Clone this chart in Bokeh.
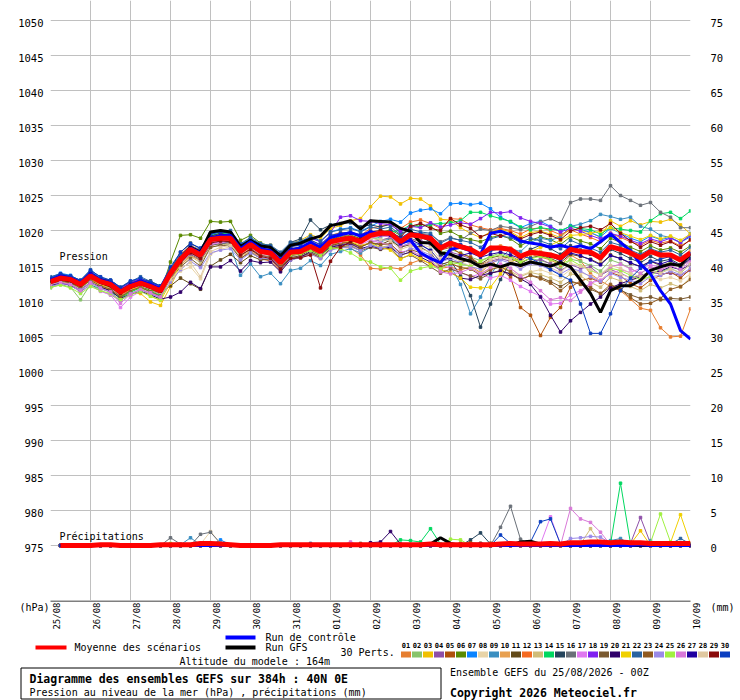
from math import pi
from bokeh.plotting import figure
from bokeh.models import Range1d, LinearAxis, FixedTicker, Label, Grid
from bokeh.layouts import column
from bokeh.embed import file_html
from bokeh.resources import INLINE
from bokeh.core.properties import value

FONT = "DejaVu Sans Mono"

# ---------------- data ----------------
HOURS = [6 * k for k in range(65)]          # 0 .. 384 h, 6-hourly
RR_HOURS = HOURS[1:]                        # precipitation starts at +6h
DAY_HOURS = [24 * k for k in range(17)]
DATES = ["25/08", "26/08", "27/08", "28/08", "29/08", "30/08", "31/08", "01/09",
         "02/09", "03/09", "04/09", "05/09", "06/09", "07/09", "08/09", "09/09", "10/09"]
P_TICKS = [975, 980, 985, 990, 995, 1000, 1005, 1010, 1015, 1020, 1025, 1030,
           1035, 1040, 1045, 1050]
MM_TICKS = [0, 5, 10, 15, 20, 25, 30, 35, 40, 45, 50, 55, 60, 65, 70, 75]

PERT_NAMES = ["01", "02", "03", "04", "05", "06", "07", "08", "09", "10",
              "11", "12", "13", "14", "15", "16", "17", "18", "19", "20",
              "21", "22", "23", "24", "25", "26", "27", "28", "29", "30"]
PERT_COLORS = ["#e67e30", "#88c46a", "#f0c000", "#8e4fa8", "#b0500a", "#5a8a00",
               "#0a84ff", "#e8d4a8", "#3a8ec0", "#e8a050", "#634a18", "#f56a20",
               "#d0bc78", "#00d860", "#25445c", "#6a7078", "#e078f0", "#8020f0",
               "#7a5a30", "#30006a", "#f0d000", "#2a64a0", "#905a20", "#9a8ae8",
               "#a0f040", "#d878d8", "#2000a0", "#e0c8a0", "#8a0a0a", "#0a3ec0"]

mean_slp = [1012.7, 1013.2, 1013.0, 1012.3, 1013.5, 1012.7, 1012.3, 1011.2, 1012.0, 1012.5, 1012.0, 1011.4,
            1013.9, 1015.9, 1017.3, 1016.5, 1018.7, 1018.9, 1018.9,
            1017.0, 1018.0, 1017.0, 1016.8, 1015.4, 1016.9, 1017.0, 1017.7, 1017.0, 1018.4, 1018.7, 1018.9, 1018.4,
            1019.3, 1019.6, 1019.6, 1018.4, 1019.4, 1019.2, 1018.9, 1017.5, 1018.2, 1017.7, 1017.3, 1016.5, 1017.5,
            1017.5, 1017.3, 1016.3, 1016.9, 1016.7, 1016.5, 1016.1, 1017.3, 1017.0, 1016.9, 1016.1, 1017.7, 1017.3,
            1016.8, 1016.1, 1017.0, 1016.5, 1016.5, 1015.8, 1016.8]
control_slp = [1012.9, 1013.5, 1013.2, 1012.5, 1013.8, 1012.9, 1012.5, 1011.4, 1012.2, 1012.8, 1012.3, 1011.7,
               1014.1, 1016.0, 1017.5, 1016.8, 1018.9, 1019.2, 1019.3,
               1017.4, 1018.4, 1017.4, 1017.1, 1015.7, 1017.2, 1017.5, 1018.3, 1017.6, 1019.0, 1019.4, 1019.7, 1019.2,
               1019.8, 1019.5, 1019.6, 1018.2, 1018.6, 1016.8, 1016.0, 1015.4, 1017.3, 1017.6, 1017.1, 1016.6, 1019.6,
               1019.9, 1019.4, 1018.5, 1018.2, 1018.0, 1017.6, 1017.9, 1017.5, 1017.8, 1017.4, 1018.4, 1019.5, 1018.3,
               1017.1, 1015.2, 1013.8, 1011.4, 1009.5, 1005.7, 1004.5]
gfs_slp = [1012.6, 1013.1, 1012.8, 1012.2, 1013.4, 1012.6, 1012.1, 1011.1, 1011.9, 1012.4, 1011.9, 1011.3,
           1013.8, 1016.0, 1017.6, 1016.9, 1019.8, 1020.0, 1019.8,
           1017.7, 1018.6, 1017.8, 1017.6, 1016.4, 1017.9, 1018.2, 1018.8, 1019.2, 1020.7, 1021.0, 1021.4, 1020.2,
           1021.4, 1021.3, 1021.2, 1020.3, 1019.9, 1018.3, 1018.2, 1016.8, 1016.6, 1016.0, 1015.6, 1014.8, 1015.2,
           1014.8, 1015.3, 1015.0, 1015.5, 1015.2, 1014.9, 1015.4, 1014.8, 1012.9, 1011.0, 1008.3, 1011.4, 1012.1,
           1012.1, 1012.9, 1014.3, 1014.8, 1015.2, 1015.0, 1016.7]

slp_01 = [1012.2, 1012.8, 1012.5, 1011.8, 1013.0, 1012.3, 1011.6, 1010.6, 1011.5, 1012.0, 1011.4, 1010.9,
          1013.2, 1015.0, 1016.4, 1015.7, 1017.8, 1018.2, 1018.0,
          1016.0, 1017.1, 1016.0, 1015.6, 1014.3, 1015.9, 1016.1, 1016.8, 1016.0, 1017.3, 1017.6, 1017.5, 1016.5,
          1014.6, 1014.5, 1014.7, 1014.5, 1015.3, 1015.8, 1015.3, 1014.6, 1014.8, 1014.3, 1014.9, 1014.0, 1015.2,
          1016.0, 1016.4, 1015.6, 1016.6, 1016.2, 1015.8, 1015.0, 1016.5, 1015.7, 1013.8, 1012.8, 1012.0, 1011.4,
          1010.2, 1008.9, 1008.6, 1006.1, 1004.8, 1004.9, 1008.8]
slp_02 = [1011.8, 1012.3, 1011.9, 1010.1, 1012.3, 1011.4, 1010.8, 1010.0, 1011.0, 1011.6, 1011.0, 1010.6,
          1013.5, 1016.0, 1017.6, 1016.3, 1018.9, 1019.5, 1019.3,
          1017.4, 1018.2, 1017.0, 1016.9, 1015.8, 1017.3, 1017.5, 1018.0, 1017.3, 1018.6, 1019.0, 1019.1, 1018.7,
          1019.0, 1018.6, 1018.9, 1017.9, 1018.8, 1018.4, 1018.2, 1016.8, 1017.3, 1016.8, 1016.2, 1015.7, 1016.3,
          1016.8, 1016.2, 1015.4, 1016.0, 1015.7, 1015.3, 1014.5, 1015.9, 1015.6, 1015.0, 1014.2, 1015.8, 1015.3,
          1014.6, 1013.8, 1014.9, 1014.1, 1014.6, 1013.9, 1015.2]
slp_03 = [1012.3, 1012.9, 1012.6, 1011.9, 1012.8, 1012.0, 1011.5, 1010.4, 1011.0, 1011.0, 1009.8, 1009.3,
          1012.0, 1015.0, 1016.6, 1015.9, 1018.9, 1019.2, 1019.4,
          1017.6, 1018.8, 1017.9, 1017.9, 1016.6, 1018.1, 1018.6, 1019.4, 1018.9, 1020.3, 1020.7, 1021.4, 1021.7,
          1023.4, 1024.9, 1024.8, 1023.8, 1024.6, 1024.5, 1023.5, 1021.6, 1021.5, 1020.4, 1019.6, 1019.0, 1019.8,
          1020.2, 1019.8, 1019.0, 1019.7, 1019.9, 1019.5, 1019.0, 1020.3, 1020.0, 1019.7, 1019.0, 1021.4, 1020.6,
          1021.4, 1020.8, 1021.3, 1021.2, 1021.6, 1020.8, 1019.5]
slp_04 = [1012.5, 1013.0, 1012.9, 1012.0, 1013.3, 1012.4, 1011.8, 1010.7, 1011.6, 1012.2, 1011.6, 1011.0,
          1013.6, 1015.6, 1016.9, 1016.0, 1018.1, 1018.4, 1018.2,
          1016.3, 1017.4, 1016.5, 1016.1, 1014.8, 1016.2, 1016.2, 1016.9, 1016.3, 1017.7, 1018.0, 1018.2, 1017.6,
          1018.4, 1018.6, 1019.0, 1017.9, 1018.7, 1018.6, 1018.0, 1016.4, 1016.9, 1016.5, 1016.0, 1015.0, 1015.6,
          1016.0, 1015.6, 1014.8, 1015.4, 1015.9, 1015.2, 1014.3, 1015.1, 1014.6, 1014.8, 1013.6, 1014.4, 1013.9,
          1013.2, 1013.6, 1014.0, 1013.8, 1013.9, 1013.6, 1014.3]
slp_05 = [1013.0, 1013.4, 1013.2, 1012.6, 1013.6, 1012.9, 1012.6, 1011.5, 1012.3, 1012.7, 1012.3, 1011.8,
          1014.4, 1016.4, 1017.6, 1016.9, 1018.8, 1019.0, 1019.1,
          1017.3, 1018.2, 1017.4, 1017.3, 1016.0, 1017.4, 1017.2, 1018.0, 1017.5, 1018.7, 1019.2, 1019.4, 1018.8,
          1019.6, 1019.8, 1019.4, 1018.7, 1019.4, 1019.0, 1018.5, 1017.2, 1017.6, 1016.7, 1016.2, 1015.1, 1015.7,
          1014.6, 1013.3, 1009.0, 1007.9, 1005.0, 1007.6, 1009.0, 1011.9, 1012.8, 1013.2, 1012.6, 1014.0, 1013.5,
          1012.4, 1011.8, 1012.9, 1013.6, 1014.1, 1013.2, 1014.5]
slp_06 = [1012.4, 1012.7, 1012.3, 1011.5, 1012.5, 1011.9, 1011.4, 1010.5, 1011.3, 1011.9, 1011.5, 1011.2,
          1015.5, 1019.3, 1019.4, 1018.9, 1021.3, 1021.2, 1021.3,
          1018.6, 1019.3, 1018.2, 1017.8, 1016.3, 1017.5, 1017.6, 1018.2, 1017.6, 1018.8, 1019.0, 1019.3, 1018.9,
          1019.4, 1019.7, 1020.1, 1019.3, 1020.4, 1020.9, 1020.6, 1019.6, 1019.9, 1019.1, 1018.7, 1018.4, 1019.0,
          1019.3, 1018.8, 1017.8, 1018.6, 1019.1, 1018.7, 1018.0, 1019.1, 1018.5, 1018.1, 1017.4, 1018.9, 1018.3,
          1017.6, 1017.0, 1017.8, 1017.2, 1017.5, 1016.9, 1017.8]
slp_07 = [1013.3, 1013.9, 1013.6, 1012.8, 1014.2, 1013.2, 1012.9, 1011.8, 1012.7, 1013.1, 1012.5, 1012.0,
          1014.0, 1016.3, 1017.8, 1017.3, 1019.4, 1019.8, 1019.6,
          1018.0, 1018.9, 1018.0, 1017.8, 1016.7, 1018.1, 1018.4, 1019.0, 1018.4, 1019.8, 1020.2, 1020.4, 1019.9,
          1020.6, 1021.3, 1021.6, 1021.2, 1022.5, 1022.9, 1023.1, 1022.4, 1023.8, 1023.9, 1023.7, 1023.9, 1023.1,
          1021.9, 1021.2, 1020.4, 1021.0, 1021.3, 1020.6, 1019.8, 1020.7, 1020.2, 1019.7, 1019.1, 1020.3, 1019.6,
          1018.9, 1018.4, 1019.2, 1018.7, 1019.0, 1018.3, 1019.1]
slp_08 = [1012.9, 1013.3, 1013.3, 1012.6, 1013.7, 1013.0, 1012.6, 1011.7, 1012.4, 1012.8, 1012.3, 1011.7,
          1013.4, 1014.2, 1014.8, 1013.1, 1016.6, 1017.3, 1017.7,
          1016.2, 1017.5, 1017.3, 1017.2, 1016.2, 1017.4, 1017.8, 1018.5, 1017.8, 1018.9, 1019.3, 1019.5, 1019.0,
          1019.6, 1019.8, 1019.3, 1018.1, 1018.8, 1018.0, 1017.6, 1015.9, 1016.3, 1015.6, 1014.9, 1014.4, 1014.9,
          1015.0, 1014.6, 1013.6, 1014.1, 1014.4, 1013.9, 1013.3, 1014.4, 1014.0, 1013.5, 1012.9, 1014.2, 1013.8,
          1013.2, 1012.7, 1013.5, 1013.0, 1013.3, 1012.8, 1013.8]
slp_09 = [1012.6, 1013.3, 1013.1, 1012.4, 1013.9, 1012.9, 1012.5, 1011.4, 1012.3, 1012.7, 1012.2, 1011.5,
          1013.7, 1015.8, 1017.5, 1016.2, 1018.6, 1018.3, 1017.8,
          1013.6, 1015.2, 1013.4, 1013.9, 1012.4, 1014.3, 1014.6, 1015.7, 1015.0, 1016.6, 1017.0, 1017.4, 1016.8,
          1017.6, 1018.4, 1018.8, 1017.6, 1018.3, 1017.9, 1017.2, 1015.4, 1015.0, 1012.3, 1008.1, 1010.5, 1013.5,
          1016.0, 1017.4, 1017.0, 1018.3, 1018.9, 1018.6, 1019.1, 1020.6, 1020.9, 1021.4, 1022.3, 1022.0, 1021.6,
          1021.9, 1020.6, 1020.2, 1019.3, 1019.0, 1018.2, 1019.6]
slp_10 = [1012.0, 1012.6, 1012.8, 1012.1, 1013.0, 1012.5, 1012.2, 1010.9, 1011.9, 1012.4, 1012.1, 1011.5,
          1014.2, 1016.3, 1017.5, 1016.9, 1018.5, 1018.7, 1018.5,
          1017.3, 1018.0, 1017.2, 1017.0, 1015.8, 1017.1, 1017.4, 1018.0, 1017.2, 1018.3, 1018.6, 1018.5, 1018.2,
          1019.1, 1019.3, 1019.5, 1018.5, 1019.4, 1019.0, 1018.8, 1017.6, 1018.4, 1017.9, 1017.6, 1016.6, 1017.6,
          1017.8, 1017.5, 1016.4, 1017.2, 1017.0, 1016.6, 1016.0, 1017.5, 1017.0, 1016.6, 1015.8, 1017.4, 1017.2,
          1016.5, 1015.6, 1016.8, 1016.1, 1016.4, 1015.7, 1017.1]
slp_11 = [1012.5, 1012.9, 1012.6, 1011.9, 1013.0, 1012.4, 1011.9, 1010.9, 1011.8, 1012.4, 1011.8, 1011.0,
          1012.1, 1013.2, 1012.4, 1011.6, 1014.9, 1015.8, 1016.6,
          1015.4, 1016.4, 1015.8, 1015.9, 1014.7, 1016.1, 1016.4, 1017.2, 1016.5, 1017.8, 1018.2, 1018.3, 1017.7,
          1018.2, 1018.0, 1018.6, 1017.6, 1018.0, 1017.6, 1016.8, 1015.1, 1015.6, 1015.4, 1015.9, 1015.2, 1016.1,
          1016.4, 1016.0, 1015.3, 1016.1, 1016.4, 1016.0, 1015.4, 1016.6, 1016.3, 1015.9, 1015.2, 1016.5, 1016.0,
          1015.3, 1014.9, 1015.6, 1015.0, 1015.4, 1014.8, 1015.8]
slp_12 = [1012.9, 1013.4, 1013.2, 1012.5, 1013.8, 1013.0, 1012.7, 1011.6, 1012.5, 1013.0, 1012.5, 1011.8,
          1014.3, 1016.6, 1017.9, 1017.1, 1019.2, 1019.5, 1019.3,
          1017.8, 1018.7, 1017.6, 1017.5, 1016.2, 1017.8, 1018.0, 1018.7, 1017.9, 1019.3, 1019.7, 1019.6, 1019.3,
          1020.3, 1020.6, 1020.9, 1020.3, 1021.2, 1021.5, 1021.0, 1020.3, 1021.7, 1021.6, 1020.8, 1020.4, 1020.1,
          1020.3, 1020.0, 1019.5, 1020.2, 1020.4, 1020.0, 1019.4, 1020.1, 1019.5, 1019.0, 1018.4, 1019.6, 1019.0,
          1018.4, 1017.9, 1018.6, 1018.2, 1018.5, 1017.8, 1018.6]
slp_13 = [1012.1, 1012.7, 1012.4, 1011.6, 1012.9, 1012.1, 1011.7, 1010.3, 1011.3, 1011.9, 1011.3, 1010.8,
          1013.1, 1015.0, 1016.3, 1015.4, 1017.6, 1017.9, 1018.1,
          1016.3, 1017.1, 1016.2, 1016.0, 1014.5, 1016.0, 1016.2, 1016.9, 1016.1, 1017.4, 1017.8, 1017.9, 1017.3,
          1017.8, 1017.6, 1017.9, 1016.4, 1017.0, 1016.5, 1015.8, 1014.6, 1015.3, 1014.8, 1014.6, 1013.9, 1014.5,
          1014.9, 1014.2, 1013.4, 1014.0, 1013.7, 1013.2, 1012.6, 1013.8, 1013.5, 1012.6, 1011.9, 1013.3, 1012.8,
          1012.0, 1011.4, 1012.3, 1011.8, 1012.4, 1011.9, 1013.3]
slp_14 = [1012.2, 1012.6, 1012.1, 1011.3, 1012.2, 1011.7, 1011.2, 1010.4, 1011.2, 1011.8, 1011.3, 1010.7,
          1013.8, 1016.0, 1017.6, 1016.8, 1019.3, 1019.6, 1019.5,
          1017.2, 1018.3, 1017.6, 1017.2, 1015.6, 1016.9, 1017.2, 1017.8, 1017.2, 1018.5, 1018.9, 1019.0, 1018.5,
          1018.8, 1019.0, 1019.8, 1020.0, 1020.8, 1020.5, 1020.9, 1021.0, 1021.1, 1021.4, 1022.6, 1022.6, 1022.1,
          1021.7, 1021.3, 1020.5, 1020.1, 1020.4, 1020.2, 1020.0, 1020.6, 1020.3, 1020.1, 1019.5, 1020.4, 1020.2,
          1020.0, 1019.8, 1021.4, 1022.4, 1022.6, 1021.7, 1022.8]
slp_15 = [1013.1, 1013.6, 1013.4, 1012.7, 1014.0, 1013.1, 1012.9, 1011.8, 1012.6, 1013.0, 1012.8, 1012.0,
          1014.5, 1016.9, 1018.2, 1017.4, 1019.2, 1019.6, 1019.2,
          1017.6, 1018.5, 1017.8, 1017.6, 1016.4, 1018.3, 1018.8, 1021.5, 1020.1, 1020.8, 1021.0, 1021.1, 1020.5,
          1020.8, 1020.5, 1020.9, 1019.7, 1019.9, 1019.2, 1018.3, 1016.6, 1015.7, 1013.5, 1010.7, 1006.2, 1009.5,
          1013.0, 1015.5, 1016.1, 1017.3, 1017.9, 1017.4, 1016.6, 1017.8, 1017.2, 1016.6, 1016.0, 1017.3, 1016.7,
          1016.0, 1015.4, 1016.3, 1015.6, 1015.9, 1015.1, 1016.3]
slp_16 = [1012.8, 1013.2, 1013.0, 1012.4, 1013.4, 1012.8, 1012.3, 1011.3, 1012.0, 1012.6, 1012.2, 1011.6,
          1013.7, 1015.4, 1016.6, 1015.8, 1017.9, 1018.1, 1018.3,
          1016.8, 1017.8, 1016.9, 1016.6, 1015.3, 1016.8, 1017.0, 1017.8, 1017.1, 1018.5, 1018.8, 1019.1, 1018.5,
          1019.5, 1019.6, 1019.9, 1018.9, 1019.7, 1019.6, 1019.4, 1018.4, 1019.0, 1018.6, 1019.6, 1020.2, 1020.0,
          1020.6, 1020.4, 1020.1, 1020.6, 1021.2, 1021.7, 1021.0, 1024.0, 1024.5, 1024.5, 1024.3, 1026.4, 1025.0,
          1024.3, 1023.6, 1024.0, 1022.6, 1021.9, 1020.4, 1020.4]
slp_17 = [1012.0, 1012.4, 1012.2, 1011.2, 1012.2, 1011.3, 1010.8, 1009.0, 1010.5, 1011.3, 1010.9, 1010.5,
          1013.0, 1015.2, 1016.7, 1016.0, 1018.0, 1018.3, 1018.5,
          1016.7, 1017.6, 1016.8, 1016.4, 1015.2, 1016.7, 1016.9, 1017.5, 1016.8, 1018.1, 1018.5, 1018.8, 1018.0,
          1018.6, 1018.2, 1018.0, 1016.9, 1017.2, 1016.4, 1016.0, 1015.0, 1014.7, 1014.0, 1013.4, 1013.8, 1013.2,
          1013.6, 1012.9, 1012.0, 1011.3, 1010.6, 1009.5, 1009.6, 1010.8, 1011.4, 1012.5, 1012.9, 1013.8, 1014.4,
          1014.0, 1014.6, 1015.1, 1014.7, 1015.3, 1014.9, 1015.7]
slp_18 = [1012.9, 1013.5, 1013.3, 1012.7, 1013.9, 1013.1, 1012.7, 1011.7, 1012.6, 1013.1, 1012.6, 1012.0,
          1014.2, 1016.2, 1017.7, 1016.9, 1019.0, 1019.3, 1019.1,
          1017.6, 1018.5, 1017.6, 1017.5, 1016.1, 1017.7, 1018.0, 1018.9, 1018.4, 1019.7, 1021.9, 1022.1, 1021.4,
          1021.3, 1021.0, 1020.8, 1019.9, 1020.6, 1020.4, 1021.1, 1020.5, 1020.8, 1021.1, 1020.9, 1021.7, 1022.6,
          1022.5, 1022.7, 1021.8, 1021.3, 1021.0, 1020.5, 1019.8, 1020.3, 1019.9, 1019.3, 1018.8, 1019.6, 1019.2,
          1018.6, 1018.1, 1018.8, 1018.4, 1018.9, 1018.3, 1019.3]
slp_19 = [1012.6, 1013.0, 1012.8, 1012.0, 1013.2, 1012.6, 1012.1, 1010.9, 1011.9, 1012.3, 1011.7, 1011.3,
          1013.1, 1014.8, 1016.0, 1014.9, 1017.6, 1017.9, 1017.8,
          1016.0, 1016.9, 1016.0, 1015.8, 1014.6, 1016.0, 1016.2, 1016.8, 1016.1, 1017.4, 1017.7, 1017.8, 1017.1,
          1017.6, 1017.3, 1017.5, 1016.0, 1016.5, 1015.7, 1014.8, 1013.9, 1014.5, 1014.0, 1013.5, 1013.1, 1013.9,
          1014.3, 1013.8, 1013.0, 1013.6, 1013.3, 1012.7, 1012.0, 1012.8, 1012.3, 1011.6, 1011.0, 1011.9, 1011.5,
          1010.8, 1010.3, 1010.5, 1010.1, 1010.3, 1010.2, 1010.5]
slp_20 = [1012.1, 1012.5, 1012.2, 1011.5, 1012.6, 1011.9, 1011.4, 1010.3, 1010.9, 1011.3, 1010.8, 1010.2,
          1010.5, 1011.2, 1012.6, 1011.7, 1014.8, 1014.8, 1015.7,
          1014.2, 1015.7, 1015.4, 1015.5, 1014.1, 1015.8, 1016.2, 1017.0, 1016.4, 1017.6, 1017.9, 1018.1, 1017.4,
          1017.8, 1017.4, 1017.6, 1016.5, 1016.9, 1016.2, 1015.5, 1014.4, 1014.0, 1013.2, 1013.0, 1013.6, 1013.9,
          1014.2, 1013.8, 1013.1, 1012.3, 1010.5, 1007.9, 1005.5, 1007.1, 1008.3, 1009.5, 1010.5, 1011.8, 1012.4,
          1012.9, 1013.4, 1014.0, 1014.2, 1014.8, 1014.4, 1015.1]
slp_21 = [1012.4, 1013.0, 1012.7, 1012.0, 1013.1, 1012.3, 1011.9, 1010.8, 1011.6, 1011.9, 1010.6, 1010.0,
          1012.5, 1015.3, 1017.2, 1016.4, 1018.4, 1018.7, 1018.6,
          1016.7, 1017.8, 1016.8, 1016.6, 1015.3, 1016.7, 1016.8, 1017.4, 1016.7, 1018.0, 1018.3, 1018.4, 1017.9,
          1018.2, 1017.6, 1017.2, 1015.9, 1016.6, 1016.0, 1015.2, 1014.4, 1014.0, 1013.2, 1011.9, 1011.8, 1011.9,
          1013.8, 1015.5, 1016.1, 1017.0, 1017.6, 1017.9, 1018.6, 1019.3, 1019.4, 1019.6, 1019.9, 1020.4, 1019.7,
          1019.2, 1018.7, 1019.3, 1018.8, 1019.2, 1018.6, 1019.5]
slp_22 = [1013.4, 1013.8, 1013.4, 1012.9, 1014.4, 1013.3, 1012.8, 1011.9, 1012.7, 1013.4, 1012.7, 1012.1,
          1014.6, 1016.5, 1017.7, 1017.0, 1019.6, 1019.9, 1020.0,
          1018.1, 1019.0, 1018.1, 1017.9, 1016.9, 1018.3, 1018.4, 1019.2, 1018.5, 1019.8, 1020.1, 1020.3, 1019.8,
          1020.5, 1020.2, 1020.5, 1019.4, 1020.2, 1019.8, 1019.6, 1018.2, 1018.9, 1018.6, 1018.3, 1017.6, 1018.8,
          1019.2, 1019.0, 1018.3, 1018.9, 1018.5, 1018.0, 1017.4, 1018.6, 1018.0, 1017.5, 1016.9, 1018.3, 1017.9,
          1017.2, 1016.6, 1017.4, 1016.9, 1017.2, 1016.5, 1017.6]
slp_23 = [1012.3, 1012.8, 1012.5, 1011.8, 1012.9, 1012.1, 1011.6, 1010.5, 1011.4, 1011.9, 1011.2, 1010.6,
          1013.2, 1015.3, 1016.9, 1016.1, 1018.4, 1018.6, 1018.4,
          1016.4, 1017.4, 1016.4, 1016.3, 1014.9, 1016.4, 1016.6, 1017.2, 1016.5, 1017.9, 1018.2, 1018.3, 1017.6,
          1018.3, 1018.0, 1018.1, 1016.7, 1017.3, 1016.8, 1016.2, 1014.8, 1015.3, 1014.7, 1014.5, 1013.6, 1014.4,
          1014.8, 1014.1, 1012.9, 1013.6, 1013.1, 1012.5, 1011.4, 1012.6, 1012.4, 1011.9, 1011.0, 1012.3, 1011.6,
          1010.4, 1009.5, 1009.6, 1010.3, 1011.6, 1012.0, 1013.0]
slp_24 = [1012.0, 1012.4, 1012.3, 1011.5, 1012.6, 1011.8, 1011.2, 1010.0, 1011.0, 1011.5, 1011.0, 1010.4,
          1012.6, 1014.4, 1015.6, 1014.7, 1016.8, 1017.2, 1017.4,
          1015.8, 1016.8, 1016.1, 1015.9, 1014.6, 1015.8, 1016.1, 1016.6, 1016.0, 1017.2, 1017.5, 1017.7, 1017.1,
          1017.9, 1017.5, 1017.8, 1016.5, 1017.5, 1017.1, 1016.5, 1015.5, 1016.0, 1015.4, 1014.8, 1014.5, 1015.4,
          1015.8, 1015.3, 1014.5, 1015.3, 1015.0, 1014.4, 1013.8, 1014.6, 1014.2, 1013.4, 1012.7, 1013.9, 1013.3,
          1012.9, 1012.4, 1013.4, 1013.6, 1014.2, 1013.7, 1014.6]
slp_25 = [1011.9, 1012.2, 1011.8, 1011.0, 1012.0, 1011.4, 1011.0, 1010.1, 1010.8, 1011.3, 1010.6, 1010.1,
          1013.5, 1016.0, 1017.4, 1016.6, 1018.9, 1019.1, 1018.9,
          1016.9, 1017.9, 1016.9, 1016.8, 1015.4, 1016.5, 1016.7, 1017.1, 1016.4, 1017.5, 1017.4, 1016.8, 1015.9,
          1015.5, 1014.8, 1014.6, 1012.9, 1014.2, 1014.6, 1014.9, 1014.5, 1015.4, 1015.2, 1014.9, 1015.6, 1016.2,
          1016.5, 1016.1, 1015.5, 1016.0, 1016.3, 1015.9, 1015.2, 1015.8, 1015.0, 1014.3, 1013.7, 1014.6, 1014.3,
          1013.6, 1013.0, 1013.4, 1014.7, 1015.4, 1014.8, 1016.0]
slp_26 = [1012.3, 1012.6, 1012.3, 1011.4, 1012.5, 1011.7, 1011.2, 1009.6, 1010.9, 1011.6, 1011.1, 1010.5,
          1013.6, 1015.8, 1017.1, 1016.4, 1018.3, 1018.5, 1018.7,
          1016.9, 1017.9, 1016.9, 1016.7, 1015.5, 1016.9, 1017.1, 1017.6, 1016.9, 1018.1, 1018.4, 1018.7, 1018.2,
          1018.9, 1019.2, 1019.1, 1017.8, 1018.1, 1017.0, 1015.8, 1014.1, 1013.8, 1014.0, 1014.6, 1013.8, 1014.7,
          1015.2, 1014.6, 1013.5, 1012.6, 1011.4, 1010.1, 1010.4, 1010.0, 1011.2, 1012.3, 1013.6, 1014.8, 1015.2,
          1014.5, 1013.9, 1014.8, 1014.4, 1015.0, 1014.4, 1015.6]
slp_27 = [1013.0, 1013.7, 1013.4, 1012.7, 1014.1, 1013.1, 1012.8, 1011.5, 1012.4, 1012.9, 1012.4, 1011.6,
          1014.0, 1016.1, 1017.6, 1016.8, 1019.1, 1019.4, 1019.5,
          1017.7, 1018.4, 1017.3, 1017.1, 1015.8, 1017.4, 1017.6, 1018.3, 1017.7, 1019.1, 1019.4, 1019.6, 1019.2,
          1019.7, 1019.4, 1019.3, 1018.1, 1018.7, 1018.0, 1017.1, 1015.6, 1016.2, 1016.4, 1016.8, 1016.2, 1016.6,
          1016.9, 1016.5, 1016.0, 1016.9, 1016.6, 1016.3, 1015.7, 1016.8, 1016.4, 1015.8, 1015.1, 1016.4, 1016.0,
          1015.4, 1014.8, 1015.6, 1015.2, 1015.7, 1014.9, 1016.0]
slp_28 = [1012.6, 1013.1, 1012.9, 1012.2, 1013.3, 1012.5, 1012.0, 1011.0, 1011.8, 1012.3, 1011.8, 1011.2,
          1013.0, 1014.6, 1015.4, 1013.4, 1017.0, 1017.6, 1017.9,
          1016.5, 1017.6, 1017.0, 1016.8, 1015.6, 1016.9, 1017.3, 1018.0, 1017.2, 1018.4, 1018.8, 1019.0, 1018.3,
          1018.9, 1018.7, 1018.5, 1017.3, 1017.8, 1017.4, 1016.9, 1015.8, 1016.3, 1015.9, 1015.4, 1014.9, 1015.8,
          1016.2, 1015.8, 1014.9, 1015.6, 1015.3, 1014.7, 1014.0, 1015.3, 1014.9, 1014.4, 1013.7, 1015.0, 1014.6,
          1013.9, 1013.4, 1014.3, 1013.9, 1014.5, 1014.0, 1015.2]
slp_29 = [1012.7, 1013.1, 1012.9, 1012.2, 1013.4, 1012.6, 1012.1, 1011.0, 1011.9, 1012.4, 1011.9, 1011.3,
          1013.7, 1015.5, 1016.8, 1016.0, 1018.2, 1018.5, 1018.4,
          1016.5, 1017.3, 1016.3, 1016.0, 1014.5, 1016.0, 1016.1, 1016.5, 1011.8, 1015.6, 1017.6, 1018.4, 1018.9,
          1019.8, 1020.0, 1019.7, 1019.0, 1020.6, 1021.0, 1020.3, 1020.0, 1021.7, 1020.8, 1020.3, 1019.1, 1019.6,
          1019.2, 1019.6, 1018.8, 1019.4, 1019.8, 1019.3, 1018.7, 1019.9, 1020.4, 1020.6, 1020.1, 1021.0, 1019.6,
          1018.5, 1017.6, 1018.4, 1017.9, 1018.4, 1017.6, 1018.7]
slp_30 = [1013.2, 1013.8, 1013.5, 1012.9, 1014.3, 1013.4, 1012.9, 1011.9, 1012.8, 1013.2, 1012.6, 1012.1,
          1014.8, 1016.9, 1018.1, 1017.5, 1019.5, 1019.8, 1019.6,
          1017.9, 1018.6, 1017.8, 1017.6, 1016.3, 1017.7, 1017.9, 1018.6, 1018.0, 1019.3, 1019.6, 1019.8, 1019.4,
          1019.9, 1019.6, 1019.9, 1018.9, 1019.8, 1019.5, 1019.2, 1017.8, 1018.4, 1018.0, 1017.5, 1016.4, 1017.1,
          1017.4, 1017.0, 1016.4, 1016.0, 1015.3, 1014.4, 1013.6, 1012.9, 1009.5, 1005.3, 1005.3, 1008.1, 1011.4,
          1013.2, 1014.6, 1015.5, 1015.9, 1016.3, 1015.8, 1016.7]

# precipitation (mm / 6h), from +6h to +384h
mean_rr = [0, 0, 0, 0, 0.1, 0.1, 0, 0,  0, 0, 0.1, 0.1, 0.1, 0.1, 0.3, 0.3,
           0.2, 0.1, 0, 0, 0, 0, 0.1, 0.1,  0.1, 0.1, 0.1, 0.1, 0.1, 0.1, 0.1, 0.1,
           0.1, 0.1, 0.1, 0.1, 0.1, 0.2, 0.1, 0.1,  0.1, 0.1, 0.1, 0.1, 0.2, 0.3, 0.2, 0.2,
           0.2, 0.3, 0.2, 0.4, 0.4, 0.5, 0.5, 0.4,  0.5, 0.4, 0.4, 0.3, 0.3, 0.3, 0.3, 0.3]
control_rr = [0, 0, 0, 0, 0, 0, 0, 0,  0, 0, 0, 0, 0, 0, 0, 0,
              0, 0, 0, 0, 0, 0, 0, 0,  0, 0, 0, 0, 0, 0, 0, 0,
              0, 0, 0, 0, 0, 0, 0, 0,  0, 0, 0.2, 0, 0, 0, 0, 0,
              0, 0, 0, 0, 0, 0, 0, 0,  0, 0, 0.1, 0, 0, 0, 0, 0]
gfs_rr = [0, 0, 0, 0, 0, 0, 0, 0,  0, 0, 0, 0, 0, 0, 0, 0,
          0, 0, 0, 0, 0, 0, 0, 0,  0, 0, 0, 0, 0, 0, 0, 0,
          0, 0, 0, 0, 0, 0.2, 1.1, 0.3,  0, 0, 0, 0, 0, 0, 0.5, 0.6,
          0.2, 0, 0, 0, 0, 0, 0, 0,  0, 0, 0, 0, 0, 0, 0, 0]

rr_01 = [0, 0, 0, 0, 0, 0, 0, 0,  0, 0, 0, 0, 0, 0, 0, 0,  0, 0, 0, 0, 0, 0, 0, 0,  0, 0, 0, 0, 0, 0.3, 0, 0,
         0, 0, 0, 0, 0, 0, 0, 0,  0, 0, 0, 0, 0, 0, 0, 0,  0, 0, 0, 0, 0, 0.2, 0, 0,  0, 0.3, 0, 0.2, 0, 0, 0, 0]
rr_02 = [0, 0, 0, 0, 0, 0, 0, 0,  0, 0, 0, 0, 0, 0, 0, 0.4,  0.2, 0, 0, 0, 0, 0, 0, 0,  0, 0, 0, 0, 0, 0, 0, 0,
         0, 0, 0, 0, 0, 0, 0, 0,  0, 0, 0, 0, 0, 0, 0, 0,  0, 0, 0, 0, 0, 0, 0, 0,  0, 0, 0, 0, 0, 0, 0, 0]
rr_03 = [0, 0, 0, 0, 0, 0, 0, 0,  0, 0, 0, 0, 0, 0, 0, 0,  0, 0, 0, 0, 0, 0, 0, 0,  0, 0, 0, 0, 0, 0, 0, 0,
         0, 0, 0, 0, 0, 0, 0, 0,  0, 0, 0, 0, 0, 0, 0, 0,  0, 0, 0, 0, 0, 0, 0, 0,  0, 0.2, 2.1, 0, 0, 0, 0, 0]
rr_04 = [0, 0, 0, 0, 0, 0, 0, 0,  0, 0, 0, 0, 0, 0, 0, 0,  0, 0, 0, 0, 0, 0, 0, 0,  0, 0, 0, 0, 0, 0, 0, 0,
         0, 0, 0, 0, 0, 0, 0, 0,  0, 0, 0, 0, 0, 0, 0, 0,  0, 0, 0, 0, 0, 0, 0, 0,  0, 0.3, 4.0, 0.3, 0, 0, 0, 0]
rr_05 = [0, 0, 0, 0, 0, 0, 0, 0,  0, 0, 0, 0, 0, 0, 0, 0,  0, 0, 0, 0, 0, 0, 0, 0,  0, 0, 0, 0, 0, 0, 0, 0,
         0, 0, 0, 0, 0, 0, 0, 0,  0, 0, 0, 0.3, 0.2, 0, 0, 0,  0, 0, 0, 0, 0, 0, 0, 0,  0, 0, 0, 0, 0, 0, 0, 0]
rr_06 = [0, 0, 0, 0, 0, 0, 0, 0,  0, 0, 0, 0.2, 0, 0, 0, 0,  0, 0, 0, 0, 0, 0, 0, 0,  0, 0, 0, 0, 0, 0, 0, 0,
         0, 0, 0, 0, 0, 0, 0, 0,  0, 0, 0, 0, 0, 0, 0, 0,  0, 0, 0, 0, 0, 0, 0, 0,  0, 0, 0, 0, 0, 0, 0, 0]
rr_07 = [0, 0, 0, 0, 0, 0, 0, 0,  0, 0, 0, 0, 0, 0, 0, 0,  0.8, 0.1, 0, 0, 0, 0, 0, 0,  0, 0, 0, 0, 0, 0, 0, 0,
         0, 0, 0, 0, 0, 0, 0, 0,  0, 0, 0, 0, 0, 0, 0, 0,  0, 0, 0, 0, 0, 0, 0, 0,  0, 0, 0, 0, 0, 0, 0, 0]
rr_08 = [0, 0, 0, 0, 0, 0, 0, 0,  0, 0, 0, 0, 0, 0, 0.2, 2.0,  0.3, 0, 0, 0, 0, 0, 0, 0,  0, 0, 0, 0, 0, 0, 0, 0,
         0, 0, 0, 0, 0, 0, 0, 0,  0, 0, 0, 0, 0, 0, 0, 0,  0, 0, 0, 0, 0, 0, 0, 0,  0, 0, 0, 0, 0, 0, 0, 0]
rr_09 = [0, 0, 0, 0, 0, 0, 0, 0,  0, 0, 0, 0, 0.1, 1.1, 0.1, 0,  0, 0, 0, 0, 0, 0, 0, 0,  0, 0, 0, 0, 0, 0, 0, 0,
         0, 0, 0, 0, 0, 0, 0, 0,  0, 0, 0, 0, 0, 0, 0, 0,  0, 0, 0, 0, 0, 0, 0, 0.7,  1.0, 0.2, 0, 0.7, 0, 0, 0, 0]
rr_10 = [0, 0, 0, 0, 0, 0, 0, 0,  0, 0, 0, 0, 0, 0, 0, 0,  0, 0, 0, 0, 0, 0, 0, 0,  0, 0, 0, 0, 0, 0, 0, 0,
         0, 0, 0, 0, 0, 0, 0, 0,  0, 0, 0, 0, 0, 0, 0, 0,  0, 0, 0, 0.3, 0.3, 0, 0, 0,  0, 0, 0, 0, 0, 0, 0, 0]
rr_11 = [0, 0, 0, 0, 0, 0, 0, 0,  0, 0, 0, 0, 0, 0, 0, 0,  0, 0, 0, 0, 0, 0, 0, 0,  0, 0, 0, 0, 0, 0, 0, 0,
         0, 0, 0, 0, 0, 0, 0, 0,  0.3, 0.3, 0, 0, 0, 0, 0, 0,  0, 0, 0, 0, 0, 0, 0, 0,  0, 0, 0, 0, 0, 0, 0, 0]
rr_12 = [0, 0, 0, 0, 0, 0, 0, 0,  0, 0, 0, 0, 0, 0, 0, 0,  0, 0, 0, 0, 0, 0, 0, 0,  0, 0, 0, 0, 0, 0, 0, 0,
         0, 0, 0, 0, 0, 0, 0, 0,  0, 0, 0, 0, 0, 0, 0, 0,  0, 0, 0, 0, 0, 0, 0.4, 0.4,  0.5, 0.4, 0, 0, 0, 0, 0, 0]
rr_13 = [0, 0, 0, 0, 0, 0, 0, 0,  0, 0, 0, 0, 0, 0, 0, 0,  0, 0, 0, 0, 0, 0, 0, 0,  0, 0, 0, 0, 0, 0, 0, 0,
         0, 0, 0, 0, 0, 0, 0, 0,  0, 0, 0, 0, 0, 0, 0, 0,  0, 0, 0, 0, 0.2, 2.4, 0.2, 0,  0, 0, 0, 0, 0, 0, 0, 0]
rr_14 = [0, 0, 0, 0, 0, 0, 0, 0,  0, 0, 0, 0, 0, 0, 0, 0,  0, 0, 0, 0, 0, 0, 0, 0,  0, 0, 0, 0, 0, 0, 0, 0,
         0, 0, 0.8, 0.7, 0.5, 2.4, 0.2, 0,  0, 0, 0, 0, 0, 0, 0, 0,  0, 0, 0, 0, 0, 0, 0, 0.2,  8.9, 0.3, 0, 0, 0, 0, 0, 0]
rr_15 = [0, 0, 0, 0, 0, 0, 0, 0,  0, 0, 0, 0, 0, 0, 0, 0,  0, 0, 0, 0, 0, 0, 0, 0,  0, 0, 0, 0, 0, 0, 0, 0,
         0, 0, 0, 0, 0, 0, 0, 0,  0, 0.8, 1.8, 0.2, 0, 0, 0, 0,  0, 0, 0, 0, 0, 0, 0, 0,  0, 0, 0, 0, 0, 0, 0, 0]
rr_16 = [0, 0, 0, 0, 0, 0, 0, 0,  0, 0, 0, 1.1, 0.2, 0, 1.6, 1.9,  0.3, 0, 0, 0, 0, 0, 0, 0,  0, 0, 0, 0, 0, 0, 0, 0,
         0, 0, 0, 0, 0, 0, 0, 0,  0, 0, 0, 0, 2.6, 5.6, 0.9, 0.1,  0, 0, 0, 0, 0, 0, 0, 0,  0, 0, 0, 0, 0, 0, 0, 0]
rr_17 = [0, 0, 0, 0, 0, 0, 0, 0,  0, 0, 0, 0, 0, 0, 0, 0,  0, 0, 0, 0, 0, 0, 0, 0,  0, 0, 0, 0, 0, 0, 0, 0,
         0, 0, 0, 0, 0, 0, 0, 0,  0, 0, 0, 0, 0, 0, 0, 0,  0.2, 4.1, 0.2, 0, 0, 0, 0, 0,  0, 0, 0, 0, 0, 0, 0, 0]
rr_18 = [0, 0, 0, 0, 0, 0, 0, 0,  0, 0, 0, 0, 0, 0, 0, 0,  0, 0, 0, 0, 0, 0, 0, 0,  0, 0, 0, 0, 0, 0, 0, 0,
         0.2, 0, 0, 0, 0, 0, 0, 0,  0, 0, 0, 0, 0, 0, 0, 0,  0, 0, 0, 0, 0, 0, 0, 0,  0, 0, 0, 0, 0, 0, 0, 0]
rr_19 = [0, 0, 0, 0, 0, 0, 0, 0,  0, 0, 0, 0, 0, 0, 0, 0,  0, 0, 0, 0, 0, 0, 0, 0,  0, 0, 0, 0, 0, 0, 0.3, 0,
         0, 0, 0, 0, 0, 0, 0, 0,  0, 0, 0.3, 0.3, 0, 0, 0, 0,  0, 0, 0, 0, 0, 0, 0, 0,  0, 0, 0, 0, 0, 0, 0, 0]
rr_20 = [0, 0, 0, 0, 0, 0, 0, 0,  0, 0, 0, 0, 0, 0, 0, 0,  0, 0, 0, 0, 0, 0, 0, 0,  0, 0, 0, 0, 0, 0, 0, 0.4,
         0.5, 2.0, 0.2, 0, 0, 0, 0, 0,  0, 0, 0, 0, 0, 0, 0, 0,  0, 0, 0, 0, 0, 0, 0, 0,  0, 0, 0, 0, 0, 0, 0, 0]
rr_21 = [0, 0, 0, 0, 0, 0, 0, 0,  0, 0, 0, 0, 0, 0, 0, 0,  0, 0, 0, 0, 0, 0, 0, 0,  0, 0, 0, 0, 0, 0, 0, 0,
         0, 0, 0, 0, 0, 0, 0, 0,  0, 0, 0, 0, 0, 0, 0, 0,  0, 0, 0, 0, 0, 0, 0, 0,  0, 0, 0, 0, 0, 0.4, 4.4, 0.2]
rr_22 = [0, 0, 0, 0, 0, 0, 0, 0,  0, 0, 0, 0, 0, 0, 0, 0,  0, 0, 0, 0, 0, 0, 0, 0,  0, 0.3, 0, 0, 0, 0, 0, 0,
         0, 0, 0, 0, 0, 0, 0, 0,  0, 0, 0, 0, 0, 0, 0, 0,  0, 0, 0, 0, 0, 0, 0, 0,  0, 0, 0, 0, 0, 0.2, 1.0, 0.2]
rr_23 = [0, 0, 0, 0, 0, 0, 0, 0,  0, 0, 0, 0, 0, 0, 0, 0,  0, 0, 0, 0, 0, 0, 0, 0,  0, 0, 0, 0, 0, 0.2, 0, 0,
         0, 0, 0, 0, 0, 0, 0, 0,  0.3, 0.4, 0.3, 0, 0, 0, 0, 0,  0, 0, 0, 0, 0, 0, 0, 0,  0, 0, 0, 0, 0, 0, 0, 0]
rr_24 = [0, 0, 0, 0, 0, 0, 0, 0,  0, 0, 0, 0, 0, 0, 0, 0,  0, 0, 0, 0, 0, 0, 0, 0,  0, 0, 0, 0, 0, 0, 0, 0,
         0, 0, 0, 0, 0, 0, 0, 0,  0, 0, 0, 0, 0, 0, 0, 0,  0, 0, 0, 1.0, 1.1, 1.3, 1.2, 0.3,  0, 0, 0, 0, 0, 0, 0, 0]
rr_25 = [0, 0, 0, 0, 0, 0, 0, 0,  0, 0, 0, 0.3, 0, 0, 0, 0,  0, 0, 0, 0, 0, 0, 0, 0,  0, 0, 0, 0, 0, 0, 0, 0,
         0, 0, 0, 0, 0, 0, 0, 0.9,  0.8, 0, 0, 0, 0, 0, 0, 0,  0, 0, 0, 0, 0, 0, 0, 0,  0, 0, 0, 0.4, 4.5, 0.5, 0, 0]
rr_26 = [0, 0, 0, 0, 0, 0, 0, 0,  0, 0, 0, 0, 0, 0, 0, 0,  0, 0, 0, 0, 0, 0, 0, 0,  0, 0, 0, 0, 0, 0.5, 0, 0,
         0, 0, 0, 0, 0, 0, 0, 0,  0, 0, 0, 0, 0, 0, 0, 0,  0, 0, 0, 5.3, 3.8, 3.3, 1.9, 0.1,  0, 0, 0, 0, 0, 0, 0, 0]
rr_27 = [0, 0, 0, 0, 0, 0, 0, 0,  0, 0, 0, 0, 0, 0, 0, 0,  0, 0, 0, 0, 0, 0, 0, 0,  0, 0, 0, 0, 0, 0, 0, 0,
         0, 0, 0, 0, 0, 0, 0, 0,  0, 0, 0, 0, 0, 0, 0, 0,  0, 0, 0, 0, 0, 0, 0, 0,  0, 0, 0, 0.3, 0.2, 0, 0, 0]
rr_28 = [0, 0, 0, 0, 0, 0, 0, 0,  0, 0, 0, 0, 0, 0, 0, 0,  0, 0, 0, 0, 0, 0, 0, 0,  0, 0, 0, 0, 0, 0, 0, 0,
         0, 0, 0, 0, 0, 0, 0, 0,  0, 0, 0, 0, 0, 0, 0, 0,  0, 0, 0, 0, 0, 0, 0, 0.3,  0, 0, 0, 0, 0, 0, 0, 0]
rr_29 = [0, 0, 0, 0, 0, 0, 0, 0,  0, 0, 0, 0, 0, 0, 0, 0,  0, 0, 0, 0, 0, 0, 0, 0,  0, 0, 0, 0, 0, 0, 0, 0,
         0, 0, 0, 0, 0, 0, 0, 0,  0, 0, 0, 0, 0, 0, 0, 0,  0, 0, 0, 0, 0, 0, 0.3, 0,  0, 0, 0, 0, 0, 0, 0, 0]
rr_30 = [0, 0, 0, 0, 0, 0, 0, 0,  0, 0, 0, 0, 0, 0, 0, 0,  0, 0, 0, 0, 0, 0, 0, 0,  0, 0, 0, 0, 0, 0, 0, 0,
         0, 0, 0, 0, 0, 0, 0, 0,  0, 0, 0, 0, 1.5, 0.3, 0.1, 0.5,  3.4, 3.8, 0.2, 0, 0, 0, 0, 0,  0, 0, 0, 0, 0, 0, 0, 0]

PERT_SLP = [slp_01, slp_02, slp_03, slp_04, slp_05, slp_06, slp_07, slp_08, slp_09, slp_10,
            slp_11, slp_12, slp_13, slp_14, slp_15, slp_16, slp_17, slp_18, slp_19, slp_20,
            slp_21, slp_22, slp_23, slp_24, slp_25, slp_26, slp_27, slp_28, slp_29, slp_30]
PERT_RR = [rr_01, rr_02, rr_03, rr_04, rr_05, rr_06, rr_07, rr_08, rr_09, rr_10,
           rr_11, rr_12, rr_13, rr_14, rr_15, rr_16, rr_17, rr_18, rr_19, rr_20,
           rr_21, rr_22, rr_23, rr_24, rr_25, rr_26, rr_27, rr_28, rr_29, rr_30]

for k, s in enumerate(PERT_SLP + [mean_slp, control_slp, gfs_slp]):
    if len(s) != len(HOURS):
        raise ValueError("slp series %d has %d values" % (k, len(s)))
for k, s in enumerate(PERT_RR + [mean_rr, control_rr, gfs_rr]):
    if len(s) != len(RR_HOURS):
        raise ValueError("rr series %d has %d values" % (k, len(s)))

# ---------------- main chart ----------------
# frame: x 50..690 px (0..384 h), y 0..600 px ; 7 px per hPa, 1050 hPa at y=20
Y_TOP = 1050 + 20 / 7
Y_BOT = 1050 - 580 / 7
MAIN_H = 600

p = figure(width=740, height=MAIN_H, x_range=Range1d(0, 384), y_range=Range1d(Y_BOT, Y_TOP),
           output_backend="svg", toolbar_location=None,
           x_axis_location=None, y_axis_location=None,
           min_border_left=50, min_border_right=50, min_border_top=0, min_border_bottom=0)
p.outline_line_color = None
p.background_fill_color = "white"
p.border_fill_color = "white"
p.extra_y_ranges = {"mm": Range1d(Y_BOT - 975, Y_TOP - 975)}
for g in p.grid:
    g.visible = False

p.add_layout(Grid(dimension=0, ticker=FixedTicker(ticks=DAY_HOURS),
                  grid_line_color="#c0c0c0", grid_line_width=1))
p.add_layout(Grid(dimension=1, ticker=FixedTicker(ticks=P_TICKS),
                  grid_line_color="#c0c0c0", grid_line_width=1))

# tick labels sit ~3 px below their grid line in the reference
LAB_DROP = 0.4
l_ticks = [t - LAB_DROP for t in P_TICKS]
ax_l = LinearAxis(ticker=FixedTicker(ticks=l_ticks),
                  major_label_overrides={t: str(v) for t, v in zip(l_ticks, P_TICKS)},
                  axis_line_color=None,
                  major_tick_line_color=None, minor_tick_line_color=None,
                  major_tick_in=0, major_tick_out=0, major_label_standoff=7,
                  major_label_text_font=FONT, major_label_text_font_size="10.5px",
                  major_label_text_color="black")
p.add_layout(ax_l, "left")

r_ticks = [t - LAB_DROP for t in MM_TICKS]
ax_r = LinearAxis(y_range_name="mm", ticker=FixedTicker(ticks=r_ticks),
                  major_label_overrides={t: str(v) for t, v in zip(r_ticks, MM_TICKS)},
                  axis_line_color=None,
                  major_tick_line_color=None, minor_tick_line_color=None,
                  major_tick_in=0, major_tick_out=0, major_label_standoff=20,
                  major_label_text_font=FONT, major_label_text_font_size="10.5px",
                  major_label_text_color="black")
p.add_layout(ax_r, "right")

# precipitation (bottom, on the mm range)
for col, rr in zip(PERT_COLORS, PERT_RR):
    p.line(RR_HOURS, rr, y_range_name="mm", line_color=col, line_width=1)
    p.scatter(RR_HOURS, rr, y_range_name="mm", marker="square", size=2.5, color=col)
p.line(RR_HOURS, gfs_rr, y_range_name="mm", line_color="black", line_width=3)
p.line(RR_HOURS, control_rr, y_range_name="mm", line_color="#0000ff", line_width=3)
p.line(RR_HOURS, mean_rr, y_range_name="mm", line_color="#ff0000", line_width=5)

# sea-level pressure spaghetti
for col, s in zip(PERT_COLORS, PERT_SLP):
    p.line(HOURS, s, line_color=col, line_width=1)
    p.scatter(HOURS, s, marker="square", size=2.5, color=col)
p.line(HOURS, gfs_slp, line_color="black", line_width=3)
p.line(HOURS, control_slp, line_color="#0000ff", line_width=3)
p.line(HOURS, mean_slp, line_color="#ff0000", line_width=5)


def hx(px):
    return (px - 50) * 384 / 640


def py(px):
    return 1050 - (px - 20) / 7


def lab(fig, x, y, text, size="10px", align="left"):
    fig.add_layout(Label(x=x, y=y, text=text, text_font=FONT, text_font_size=size,
                         text_align=align, text_baseline="middle", text_color="black"))


lab(p, hx(59), py(256), "Pression")
lab(p, hx(59), py(536), "Précipitations")

# ---------------- strip below the plot: time axis + legend ----------------
# x in forecast hours (same scale as the plot), y in pixels from the top of the picture
lg = figure(width=740, height=100, x_range=Range1d(hx(0), hx(740)), y_range=Range1d(700, 600),
            output_backend="svg", toolbar_location=None,
            x_axis_location=None, y_axis_location=None,
            min_border_left=0, min_border_right=0, min_border_top=0, min_border_bottom=0)
lg.outline_line_color = None
lg.background_fill_color = "white"
lg.border_fill_color = "white"
for g in lg.grid:
    g.visible = False

for fig in (p, lg):
    if "frame_align" in fig.properties():
        fig.frame_align = False

# time axis base line and date labels
lg.segment(x0=[0], y0=[600.5], x1=[384], y1=[600.5], line_color="black", line_width=1)
lg.text(x=DAY_HOURS, y=[602] * len(DAY_HOURS), text=DATES, angle=pi / 2, x_offset=6,
        text_font=value(FONT), text_font_size="9px", text_align="right",
        text_baseline="middle", text_color="black")
lg.text(x=[hx(49)], y=[607], text=["(hPa)"], text_font=value(FONT), text_font_size="10px",
        text_align="right", text_baseline="middle", text_color="black")
lg.text(x=[hx(710)], y=[607], text=["(mm)"], text_font=value(FONT), text_font_size="10px",
        text_align="left", text_baseline="middle", text_color="black")

# legend
lg.segment(x0=[hx(35), hx(225), hx(225)], y0=[647, 637, 647],
           x1=[hx(66), hx(255), hx(255)], y1=[647, 637, 647],
           line_color=["#ff0000", "#0000ff", "black"], line_width=4)
lg.text(x=[hx(74), hx(265), hx(265), hx(340), hx(179)], y=[647, 637, 647, 652, 661],
        text=["Moyenne des scénarios", "Run de contrôle", "Run GFS", "30 Perts.",
              "Altitude du modele : 164m"],
        text_font=value(FONT), text_font_size="10px", text_baseline="middle",
        text_align="left", text_color="black")
sq_x = [hx(405.5 + 11 * k) for k in range(len(PERT_NAMES))]
lg.rect(x=sq_x, y=[654] * len(sq_x), width=hx(60) - hx(50), height=6,
        fill_color=PERT_COLORS, line_color=None)
lg.text(x=sq_x, y=[644.5] * len(sq_x), text=PERT_NAMES, text_font=value(FONT),
        text_font_size="7px", text_font_style="bold", text_align="center",
        text_baseline="middle", text_color="black")
lg.quad(left=[hx(20.5)], right=[hx(440.5)], top=[667.5], bottom=[698.5], fill_color=None,
        line_color="black", line_width=1)
lg.text(x=[hx(29)], y=[678], text=["Diagramme des ensembles GEFS sur 384h : 40N 0E"],
        text_font=value(FONT), text_font_size="11.5px", text_font_style="bold",
        text_baseline="middle", text_color="black")
lg.text(x=[hx(29)], y=[692], text=["Pression au niveau de la mer (hPa) , précipitations (mm)"],
        text_font=value(FONT), text_font_size="10px", text_baseline="middle", text_color="black")
lg.text(x=[hx(449.5)], y=[672], text=["Ensemble GEFS du 25/08/2026 - 00Z"],
        text_font=value(FONT), text_font_size="10px", text_baseline="middle", text_color="black")
lg.text(x=[hx(449.5)], y=[692], text=["Copyright 2026 Meteociel.fr"],
        text_font=value(FONT), text_font_size="11.5px", text_font_style="bold",
        text_baseline="middle", text_color="black")

layout = column(p, lg, spacing=0)

open("out.html", "w").write(file_html(layout, INLINE))
